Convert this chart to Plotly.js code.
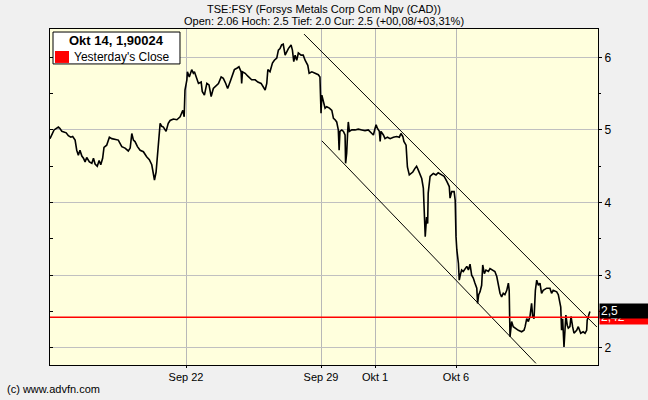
<!DOCTYPE html>
<html>
<head>
<meta charset="utf-8">
<script src="https://cdn.plot.ly/plotly-3.0.1.min.js"></script>
<style>
html,body{margin:0;padding:0;background:#f0f0f0;}
#chart{width:648px;height:400px;}
</style>
</head>
<body>
<div id="chart"></div>
<script>
// x = trading days relative to Sep 22 (0); Sep 29 = 5, Okt 1 = 7, Okt 6 = 10, Okt 14 = 15
const dayX = [-5.04,-4.97,-4.89,-4.73,-4.67,-4.60,-4.44,-4.36,-4.27,-4.20,-4.11,-4.05,-3.99,-3.93,-3.86,-3.80,-3.74,-3.68,-3.58,-3.49,-3.43,-3.37,-3.29,-3.22,-3.16,-3.09,-3.04,-2.94,-2.84,-2.75,-2.63,-2.51,-2.38,-2.26,-2.14,-2.07,-2.01,-1.95,-1.89,-1.80,-1.70,-1.58,-1.46,-1.36,-1.27,-1.21,-1.17,-1.11,-1.06,-1.01,-0.96,-0.90,-0.84,-0.74,-0.66,-0.59,-0.47,-0.34,-0.22,-0.12,-0.07,-0.04,0.03,0.05,0.12,0.21,0.27,
0.31,0.40,0.46,0.56,0.60,0.68,0.77,0.85,0.93,1.01,1.10,1.20,1.30,1.38,1.47,1.54,1.63,1.71,1.79,1.88,1.96,2.04,2.06,2.09,2.19,2.29,2.37,2.43,2.56,2.66,2.78,2.86,2.93,2.99,3.03,3.11,3.20,3.27,3.36,3.42,3.48,3.54,3.60,3.67,3.73,3.79,3.89,3.94,3.99,4.04,4.10,4.16,4.26,4.34,4.41,4.51,4.56,4.66,4.78,4.90,4.96,
5.00,5.03,5.09,5.15,5.21,5.31,5.40,5.46,5.52,5.58,5.64,5.67,5.70,5.77,5.83,5.89,5.91,5.95,5.99,6.01,6.05,6.14,6.26,6.38,6.51,6.63,6.75,6.88,6.94,7.00,7.04,7.09,7.16,7.19,7.22,7.31,7.37,7.46,7.56,7.68,7.80,7.90,7.96,8.03,8.07,8.15,8.20,8.27,8.32,8.40,8.48,8.54,8.60,8.67,8.73,8.79,8.83,8.86,8.91,8.95,8.97,9.04,9.10,9.16,9.26,9.34,9.47,9.56,9.66,9.75,9.78,9.84,9.93,9.97,
10.00,10.03,10.09,10.12,10.17,10.21,10.27,10.33,10.40,10.46,10.52,10.58,10.64,10.70,10.77,10.80,10.84,10.89,10.95,10.99,11.05,11.11,11.20,11.26,11.36,11.44,11.51,11.57,11.63,11.69,11.75,11.81,11.88,11.94,11.97,12.00,12.06,12.12,12.19,12.31,12.43,12.52,12.56,12.62,12.68,12.74,12.80,12.84,12.89,12.94,12.99,13.05,13.11,13.17,13.23,13.36,13.48,13.54,13.60,13.73,13.79,13.83,13.88,13.91,13.95,14.00,14.04,14.07,14.12,14.16,14.22,14.26,14.32,14.37,14.47,14.53,14.62,14.71,14.78,14.84,14.86,14.90,14.94,14.96];
const price = [4.88,4.93,5.00,5.04,5.02,4.98,4.96,4.92,4.90,4.91,4.86,4.72,4.65,4.72,4.64,4.61,4.56,4.62,4.56,4.54,4.61,4.53,4.50,4.58,4.52,4.61,4.76,4.79,4.90,4.88,4.87,4.86,4.77,4.75,4.71,4.75,4.95,4.86,4.84,4.77,4.72,4.70,4.63,4.59,4.52,4.38,4.31,4.42,4.63,4.95,5.09,5.05,5.04,4.98,5.09,5.13,5.15,5.14,5.18,5.27,5.18,5.55,5.69,5.80,5.73,5.83,5.78,
5.80,5.69,5.64,5.66,5.53,5.48,5.64,5.62,5.46,5.57,5.60,5.64,5.73,5.71,5.64,5.57,5.66,5.76,5.83,5.85,5.87,5.80,5.64,5.80,5.78,5.74,5.71,5.69,5.69,5.66,5.64,5.60,5.55,5.64,5.83,5.80,5.92,5.96,5.99,6.10,6.12,6.17,6.18,6.03,6.08,6.12,6.17,6.10,5.94,6.03,5.96,6.06,6.03,6.03,5.96,5.89,5.78,5.80,5.78,5.76,5.73,
5.23,5.48,5.37,5.30,5.32,5.30,5.27,5.16,5.14,5.11,5.00,4.72,4.98,5.00,4.98,4.93,4.54,4.68,5.00,5.11,4.98,5.00,5.00,5.01,5.00,4.99,5.00,4.96,4.93,5.02,5.07,5.02,4.98,4.84,4.98,4.93,4.88,4.90,4.88,4.90,4.91,4.90,4.95,4.91,4.84,4.79,4.49,4.38,4.40,4.42,4.47,4.50,4.45,4.38,4.33,4.20,3.71,3.53,3.80,3.71,4.13,4.36,4.38,4.40,4.38,4.41,4.38,4.36,4.29,4.22,4.06,4.15,4.15,4.03,
3.53,3.35,3.16,2.93,3.02,3.07,3.05,3.09,3.12,3.07,3.15,3.00,2.96,2.89,2.82,2.61,2.73,2.77,2.86,3.14,3.02,3.07,3.05,3.09,3.07,3.05,2.98,2.86,2.75,2.70,2.75,2.73,2.79,2.89,2.79,2.15,2.36,2.29,2.27,2.24,2.22,2.24,2.29,2.40,2.36,2.43,2.61,2.43,2.40,2.79,2.93,2.86,2.89,2.75,2.79,2.82,2.82,2.75,2.79,2.77,2.73,2.63,2.56,2.24,2.40,2.01,2.38,2.45,2.31,2.27,2.29,2.43,2.29,2.20,2.24,2.29,2.20,2.22,2.20,2.24,2.38,2.43,2.47,2.50];

const prevClose = 2.42;
const lastPrice = 2.5;
const upperChannelX = [4.37, 15.22];
const upperChannelY = [6.32, 2.285];
const lowerChannelX = [5.03, 12.96];
const lowerChannelY = [4.85, 1.785];

const xTickVals = [0, 5, 7, 10];
const xTickText = ["Sep 22", "Sep 29", "Okt 1", "Okt 6"];
const yTickVals = [2, 3, 4, 5, 6];
const yTickText = ["2", "3", "4", "5", "6"];

const xRange = [-5.04, 15.26];
const yRange = [1.762, 6.39];

const titleLine1 = "TSE:FSY (Forsys Metals Corp Com Npv (CAD))";
const titleLine2 = "Open: 2.06 Hoch: 2.5 Tief: 2.0 Cur: 2.5 (+00,08/+03,31%)";
const legendTitle = "Okt 14, 1,90024";
const legendItem = "Yesterday's Close";
const footer = "(c) www.advfn.com";

const FONT = "Liberation Sans, Arial, sans-serif";

const traces = [
  {x: upperChannelX, y: upperChannelY, mode: 'lines', line: {color: '#000', width: 1}, hoverinfo: 'skip'},
  {x: lowerChannelX, y: lowerChannelY, mode: 'lines', line: {color: '#000', width: 1}, hoverinfo: 'skip'},
  {x: dayX, y: price, mode: 'lines', line: {color: '#000', width: 1.6}, hoverinfo: 'skip'},
  {x: xRange, y: [prevClose, prevClose], yaxis: 'y2', mode: 'lines', line: {color: '#ff0000', width: 1.5}, hoverinfo: 'skip'}
];

const layout = {
  width: 648, height: 400,
  margin: {l: 50, r: 50, t: 29, b: 35, pad: 0},
  paper_bgcolor: '#f0f0f0',
  plot_bgcolor: '#ffffdd',
  showlegend: false,
  font: {family: FONT, size: 11, color: '#000'},
  xaxis: {
    range: xRange, tickvals: xTickVals, ticktext: xTickText,
    showgrid: true, gridcolor: '#b8b8b8', gridwidth: 1,
    zeroline: false, showline: true, linecolor: '#000', linewidth: 1, mirror: true,
    ticks: 'outside', ticklen: 2, tickcolor: '#000',
    tickfont: {family: FONT, size: 11}, fixedrange: true
  },
  yaxis: {
    range: yRange, side: 'right', tickvals: yTickVals, ticktext: yTickText,
    showgrid: true, gridcolor: '#c0c0c0', gridwidth: 1,
    zeroline: false, showline: true, linecolor: '#000', linewidth: 1, mirror: true,
    ticks: 'outside', ticklen: 3, tickcolor: '#000',
    minor: {ticks: 'outside', ticklen: 2, dtick: 0.5, tickcolor: '#000', showgrid: false},
    tickfont: {family: FONT, size: 12}, fixedrange: true
  },
  yaxis2: {
    range: yRange, overlaying: 'y', side: 'left', matches: 'y',
    showgrid: false, zeroline: false, showticklabels: false,
    ticks: 'inside', ticklen: 3, dtick: 0.5, tick0: 0, tickcolor: '#000', fixedrange: true
  },
  shapes: [
    {type: 'rect', xref: 'paper', yref: 'paper', x0: 0.0055, x1: 0.2372, y0: 0.896, y1: 0.991,
     fillcolor: '#ffffff', line: {color: '#000', width: 1}, layer: 'above'},
    {type: 'rect', xref: 'paper', yref: 'paper', x0: 0.0091, x1: 0.0347, y0: 0.899, y1: 0.9345,
     fillcolor: '#ff0000', line: {width: 0}, layer: 'above'}
  ],
  annotations: [
    {xref: 'paper', yref: 'paper', x: 0.5, y: 1.0595, text: titleLine1, showarrow: false, xanchor: 'center', yanchor: 'middle', font: {family: FONT, size: 11}},
    {xref: 'paper', yref: 'paper', x: 0.5, y: 1.0238, text: titleLine2, showarrow: false, xanchor: 'center', yanchor: 'middle', font: {family: FONT, size: 11}},
    {xref: 'paper', yref: 'paper', x: -0.0821, y: -0.0714, text: footer, showarrow: false, xanchor: 'left', yanchor: 'middle', font: {family: FONT, size: 11}},
    {xref: 'paper', yref: 'paper', x: 0.1217, y: 0.9643, text: '<b>' + legendTitle + '</b>', showarrow: false, xanchor: 'center', yanchor: 'middle', font: {family: FONT, size: 13}},
    {xref: 'paper', yref: 'paper', x: 0.0401, y: 0.9158, text: legendItem, showarrow: false, xanchor: 'left', yanchor: 'middle', font: {family: FONT, size: 12}},
    {xref: 'paper', yref: 'y', x: 1, y: prevClose, xanchor: 'left', yanchor: 'middle', xshift: 1, text: String(prevClose).replace('.', ','), showarrow: false,
     bgcolor: '#ff0000', font: {family: FONT, size: 12, color: '#fff'}, width: 46, height: 12, align: 'left', borderpad: 1},
    {xref: 'paper', yref: 'y', x: 1, y: lastPrice, xanchor: 'left', yanchor: 'middle', xshift: 1, text: String(lastPrice).replace('.', ','), showarrow: false,
     bgcolor: '#000000', font: {family: FONT, size: 12, color: '#fff'}, width: 46, height: 12, align: 'left', borderpad: 1}
  ]
};

Plotly.newPlot('chart', traces, layout, {staticPlot: true, displayModeBar: false});
</script>
</body>
</html>
